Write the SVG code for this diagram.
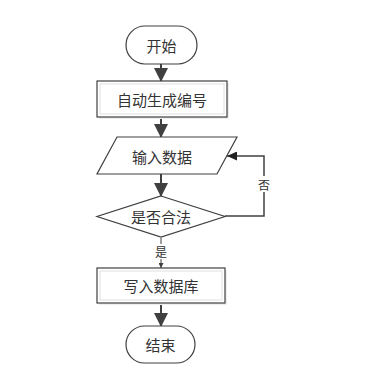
<svg xmlns="http://www.w3.org/2000/svg" width="388" height="374" viewBox="0 0 388 374">
<style>
.shape{fill:#fff;stroke:#404040;stroke-width:1.2}
.inner{fill:none;stroke:#e0e0e0;stroke-width:1}
.t{font-family:"Noto Sans CJK SC",sans-serif;font-size:15px;fill:#333;text-anchor:middle;dominant-baseline:central}
.lbl{font-family:"Noto Sans CJK SC",sans-serif;font-size:12px;fill:#333;text-anchor:middle;dominant-baseline:central}
.c{fill:none;stroke:#404040}
</style>
<defs>
<marker id="big" markerUnits="userSpaceOnUse" markerWidth="14" markerHeight="16" refX="13" refY="7" orient="auto" viewBox="0 0 14 14">
<path d="M0,0 L14,7 L0,14 Z" fill="#404040"/>
</marker>
<marker id="mid" markerUnits="userSpaceOnUse" markerWidth="10" markerHeight="9" refX="10" refY="4.5" orient="auto" viewBox="0 0 10 9">
<path d="M0,0 L10,4.5 L0,9 Z" fill="#202020"/>
</marker>
<marker id="small" markerUnits="userSpaceOnUse" markerWidth="5" markerHeight="5" refX="5" refY="2.5" orient="auto" viewBox="0 0 5 5">
<path d="M0,0 L5,2.5 L0,5 Z" fill="#404040"/>
</marker>
</defs>
<g id="connectors">
<line class="c" x1="161" y1="64" x2="161" y2="81" stroke-width="2" marker-end="url(#big)"/>
<line class="c" x1="161" y1="117" x2="161" y2="137" stroke-width="2" marker-end="url(#big)"/>
<line class="c" x1="161" y1="174" x2="161" y2="196" stroke-width="2" marker-end="url(#big)"/>
<polyline class="c" points="225,216 264,216 264,156 227,156" stroke-width="1.5" marker-end="url(#mid)"/>
<line class="c" x1="161" y1="238" x2="161" y2="268" stroke-width="1" marker-end="url(#small)"/>
<line class="c" x1="161" y1="303" x2="161" y2="326" stroke-width="2" marker-end="url(#big)"/>
<rect x="256" y="176" width="16" height="16" fill="#fff"/>
<text class="lbl" x="264" y="184">否</text>
<rect x="153" y="244" width="16" height="15" fill="#fff"/>
<text class="lbl" x="161" y="251">是</text>
</g>
<g id="start">
<rect class="shape" x="126" y="26" width="71" height="38" rx="19" ry="19"/>
<text class="t" x="161.5" y="45">开始</text>
</g>
<g id="gen">
<rect x="99" y="83" width="130" height="36" fill="#eee"/>
<rect class="shape" x="97" y="81" width="130" height="36"/>
<rect class="inner" x="100" y="84" width="124" height="30"/>
<text class="t" x="162" y="99">自动生成编号</text>
</g>
<g id="input">
<polygon class="shape" points="117,137 237,137 217,174 97,174"/>
<text class="t" x="162" y="156">输入数据</text>
</g>
<g id="check">
<polygon class="shape" points="161,196 225,216.5 161,237 97,216.5"/>
<text class="t" x="161" y="216">是否合法</text>
</g>
<g id="write">
<rect x="99" y="270" width="128" height="35" fill="#eee"/>
<rect class="shape" x="97" y="268" width="128" height="35"/>
<rect class="inner" x="100" y="271" width="122" height="29"/>
<text class="t" x="161" y="285">写入数据库</text>
</g>
<g id="end">
<rect class="shape" x="126" y="326" width="69" height="37" rx="18.5" ry="18.5"/>
<text class="t" x="160.5" y="344.5">结束</text>
</g>
</svg>
